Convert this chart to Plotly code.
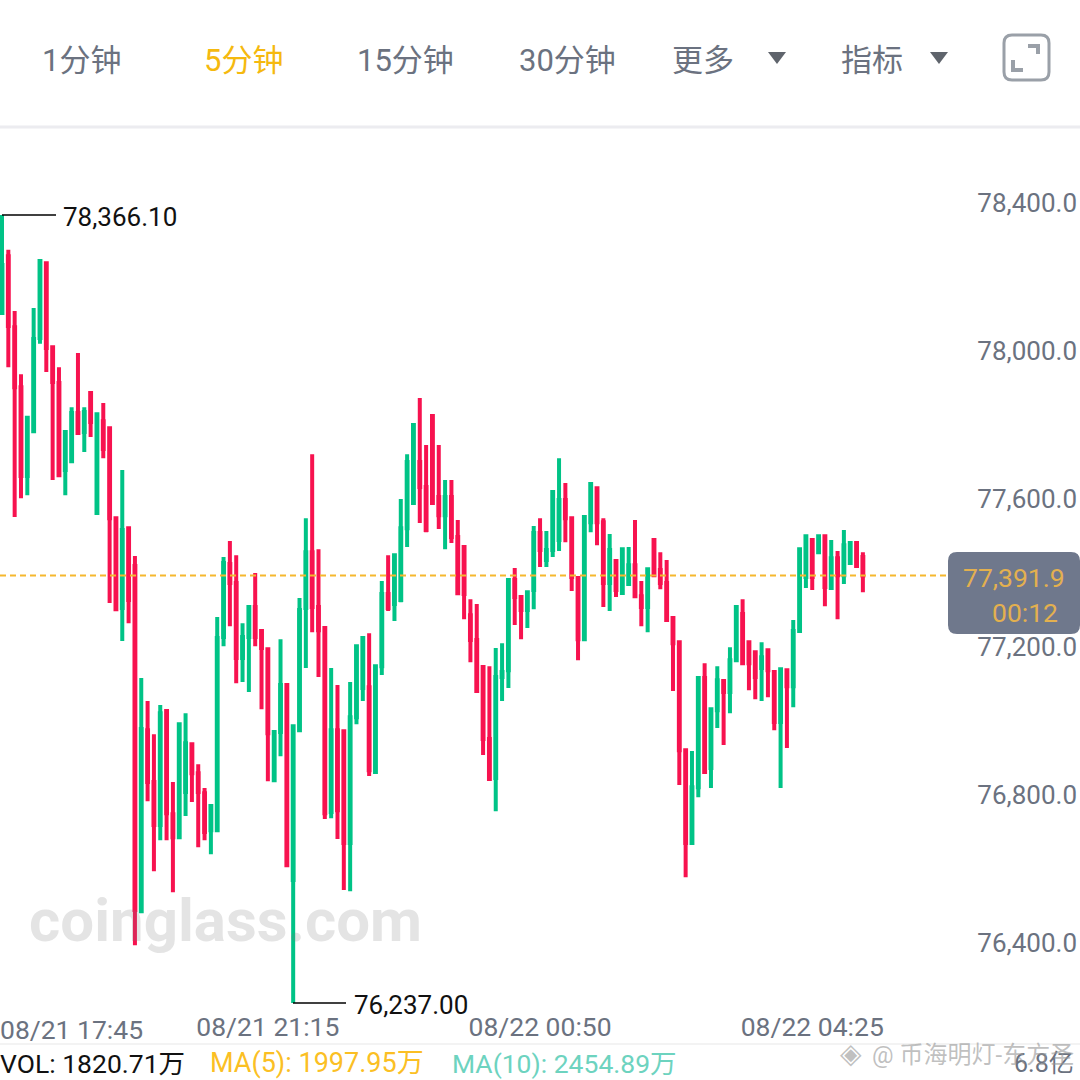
import pandas as pd
import plotly.graph_objects as go

# 5 minute candles
open_ = [78101,78255,78063,77901,77661,77782,78034,78236,78009,77912,77677,77701,77831,77780,77885,77561,77809,77790,77547,77304,77520,77418,
         76485,76974,76834,76718,77026,76747,76685,76807,76936,76858,76804,76704,76704,77226,77423,77372,77169,77226,77307,77242,77193,76839,76969,
         77096,76569,76974,77304,77455,77307,77250,76753,76974,76971,76669,77009,77088,77090,76861,77147,77342,77315,77326,77520,77588,77699,77631,
         77823,77604,77555,77604,77496,77469,77285,77218,77145,76950,76845,77118,77136,77380,77334,77299,77353,77507,77434,77461,77488,77596,77547,
         77385,77220,77536,77628,77536,77372,77431,77345,77369,77420,77336,77307,77488,77407,77372,77277,77212,76920,76669,76820,77115,76872,77028,
         77107,77077,77163,77288,77212,77185,77142,77190,77131,76996,77136,77093,77242,77388,77488,77455,77498,77358,77439,77393,77426,77480,77442]
high = [78366.1,78272,78107,77936,77818,78115,78242,78236,78009,77955,77780,77847,77993,77847,77885,77828,77858,77790,77547,77677,77520,77445,
        77115,77053,76963,77042,77026,76834,76990,77020,76936,76882,76818,76769,77280,77442,77485,77447,77263,77307,77399,77242,77193,76969,77220,
        77096,76985,77331,77547,77720,77463,77250,77142,77096,76971,77104,77201,77223,77236,77147,77377,77447,77447,77599,77720,77799,77872,77745,
        77823,77745,77650,77650,77542,77469,77328,77315,77145,77147,77196,77209,77380,77412,77334,77347,77526,77547,77512,77618,77709,77642,77547,
        77385,77550,77639,77628,77547,77504,77431,77463,77469,77542,77377,77409,77488,77455,77434,77277,77212,76920,76918,77115,77155,77031,77147,
        77107,77198,77307,77328,77212,77185,77212,77190,77131,77139,77136,77272,77463,77498,77488,77498,77498,77488,77458,77515,77480,77480,77455]
low = [78101,77955,77550,77601,77609,77782,78018,77942,77650,77663,77609,77701,77774,77726,77766,77561,77709,77318,77301,77215,77263,76393,
       76485,76782,76593,76677,76677,76536,76685,76742,76780,76658,76677,76639,76704,77201,77255,77101,77104,77077,77201,77031,76836,76839,76904,
       76607,76237,76974,77142,77239,77118,76734,76736,76680,76542,76539,76990,77053,76850,76861,77123,77296,77269,77320,77469,77588,77534,77509,
       77588,77518,77463,77480,77342,77274,77158,77080,76907,76842,76755,77053,77088,77258,77220,77250,77301,77415,77415,77442,77458,77482,77350,
       77163,77220,77509,77474,77307,77296,77334,77345,77369,77336,77255,77239,77393,77355,77269,77080,76826,76577,76669,76793,76861,76818,76980,
       76934,77020,77163,77153,77082,77058,77053,77063,76974,76818,76926,77036,77242,77358,77353,77455,77309,77358,77274,77369,77426,77418,77347]
close = [78231,78066,77901,77661,77818,78031,78242,78007,77915,77663,77780,77831,77777,77834,77807,77828,77734,77547,77301,77515,77326,76488,
         76977,76834,76718,77020,76750,76685,76990,76939,76858,76807,76699,76769,77223,77426,77372,77169,77226,77307,77226,77196,76966,76969,77096,
         76609,76985,77299,77455,77307,77244,76750,76974,76758,76669,77009,77201,77223,76866,77147,77342,77304,77447,77520,77699,77799,77631,77515,
         77588,77555,77604,77496,77344,77342,77218,77080,76950,76842,77118,77131,77380,77334,77299,77347,77507,77461,77461,77618,77596,77547,77388,
         77220,77550,77639,77536,77372,77461,77353,77463,77420,77336,77307,77409,77393,77372,77272,77209,76920,76669,76820,77115,76861,77031,77109,
         77077,77163,77307,77155,77155,77118,77171,77136,76996,77139,77093,77242,77463,77498,77388,77498,77361,77439,77393,77474,77480,77418,77391.9]

times = pd.date_range("2024-08-21 17:45", periods=len(close), freq="5min")
x_ticks = [times[42], times[85], times[128]]
y_ticks = [76400, 76800, 77200, 77600, 78000, 78400]

last_price = 77391.9
high_mark = 78366.10
low_mark = 76237.00

GREEN = "#00c386"
RED = "#f7124f"
GREY = "#6b7280"
FONT = "Roboto, 'Noto Sans CJK SC'"


def px(v):
    return v / 1080


def py(v):
    return 1 - v / 1080


def round_rect(x0, y0, x1, y1, r):
    return (f"M {px(x0 + r)} {py(y0)} L {px(x1 - r)} {py(y0)} Q {px(x1)} {py(y0)} {px(x1)} {py(y0 + r)} "
            f"L {px(x1)} {py(y1 - r)} Q {px(x1)} {py(y1)} {px(x1 - r)} {py(y1)} "
            f"L {px(x0 + r)} {py(y1)} Q {px(x0)} {py(y1)} {px(x0)} {py(y1 - r)} "
            f"L {px(x0)} {py(y0 + r)} Q {px(x0)} {py(y0)} {px(x0 + r)} {py(y0)} Z")


def label(text, x, y, size, color, anchor="center", weight=None):
    fig.add_annotation(text=text, xref="paper", yref="paper", x=px(x), y=py(y), xanchor=anchor, yanchor="middle",
                       showarrow=False, font=dict(family=FONT, size=size, color=color, weight=weight))


fig = go.Figure()
fig.add_trace(go.Candlestick(
    x=times, open=open_, high=high, low=low, close=close, whiskerwidth=0,
    increasing=dict(line=dict(color=GREEN, width=4), fillcolor=GREEN),
    decreasing=dict(line=dict(color=RED, width=4), fillcolor=RED),
    showlegend=False,
))

bar = pd.Timedelta(minutes=5)
fig.update_layout(
    width=1080, height=1080, margin=dict(l=0, r=0, t=0, b=0),
    paper_bgcolor="white", plot_bgcolor="white", boxgap=0.8, showlegend=False,
    font=dict(family=FONT),
    xaxis=dict(
        range=[times[0] - 0.316 * bar, times[0] + 170.3 * bar], rangeslider_visible=False,
        tickvals=x_ticks, tickformat="%m/%d %H:%M", ticklabelposition="inside", ticks="",
        tickfont=dict(size=26.5, color=GREY), showgrid=False, zeroline=False, showline=False,
    ),
    yaxis=dict(
        domain=[py(1044), py(128)], range=[76126.2, 78601.2], side="right",
        tickvals=y_ticks, tickformat=",.1f", ticklabelposition="inside", ticks="",
        tickfont=dict(size=26, color=GREY), showgrid=False, zeroline=False, showline=False,
    ),
)

# separators
fig.add_shape(type="line", xref="paper", yref="paper", x0=0, x1=1, y0=py(127), y1=py(127), line=dict(color="#ececf0", width=3))
fig.add_shape(type="line", xref="paper", yref="paper", x0=0, x1=1, y0=py(1044), y1=py(1044), line=dict(color="#f3f3f3", width=2))

# last price line and badge
fig.add_shape(type="line", xref="paper", yref="y", x0=0, x1=px(948), y0=last_price, y1=last_price,
              line=dict(color="#f5b82e", width=2, dash="6px 4px"))
fig.add_shape(type="path", xref="paper", yref="paper", path=round_rect(948, 552, 1080, 634, 9),
              fillcolor="#6f788c", line=dict(width=0))
label("77,391.9", 1067, 577, 26.5, "#e3b04f", "right")
label("00:12", 1060, 612, 26.5, "#e3b04f", "right")

# high / low markers
fig.add_shape(type="line", xref="paper", yref="y", x0=px(2), x1=px(56), y0=high_mark, y1=high_mark, line=dict(color="black", width=1.3))
fig.add_shape(type="line", xref="paper", yref="y", x0=px(293), x1=px(346), y0=low_mark, y1=low_mark, line=dict(color="black", width=1.3))
label("78,366.10", 61, 217, 26, "#111111", "left")
label("76,237.00", 352, 1005, 26, "#111111", "left")

# first date label sits against the left edge
label("08/21 17:45", -2, 1029, 26.5, GREY, "left")

# header tabs
label("1分钟", 81, 60, 31, GREY)
label("5分钟", 243, 60, 31, "#f5b90f")
label("15分钟", 405, 60, 31, GREY)
label("30分钟", 567, 60, 31, GREY)
label("更多", 703, 60, 31, GREY)
label("指标", 872, 60, 31, GREY)
for tri_x in [777, 939]:
    path = f"M {px(tri_x - 9)} {py(52)} L {px(tri_x + 9)} {py(52)} L {px(tri_x)} {py(64)} Z"
    fig.add_shape(type="path", xref="paper", yref="paper", path=path, fillcolor="#5f646c", line=dict(width=0))

# fullscreen icon
fig.add_shape(type="path", xref="paper", yref="paper", path=round_rect(1004, 35, 1049, 80, 8),
              line=dict(color="#9aa0a8", width=3), fillcolor="white")
for pts in [[(1028, 44), (1040, 44), (1040, 54), (1036, 54), (1036, 48), (1028, 48)],
            [(1011, 60), (1015, 60), (1015, 68), (1023, 68), (1023, 72), (1011, 72)]]:
    path = "M " + " L ".join(f"{px(a)} {py(b)}" for a, b in pts) + " Z"
    fig.add_shape(type="path", xref="paper", yref="paper", path=path, fillcolor="#9aa0a8", line=dict(width=0))

# footer
label("VOL: 1820.71万", -2, 1063, 26.5, "#111111", "left")
label("MA(5): 1997.95万", 208, 1063, 27, "#fbbf24", "left")
label("MA(10): 2454.89万", 450, 1063, 26.5, "#6dd3bf", "left")
label("6.8亿", 1076, 1063, 25, GREY, "right")

# watermarks
label("coinglass.com", 27, 920, 60, "rgba(120,120,120,0.2)", "left", weight=700)
label("◈", 851, 1053, 28, "rgba(150,150,150,0.6)")
label("@ 币海明灯-东方圣", 1076, 1055, 24, "rgba(150,150,150,0.6)", "right")

# page body has a default margin that would shift everything
fig.write_html("out.html", config=dict(displayModeBar=False),
               post_script="document.body.style.margin='0';document.body.style.overflow='hidden';")
